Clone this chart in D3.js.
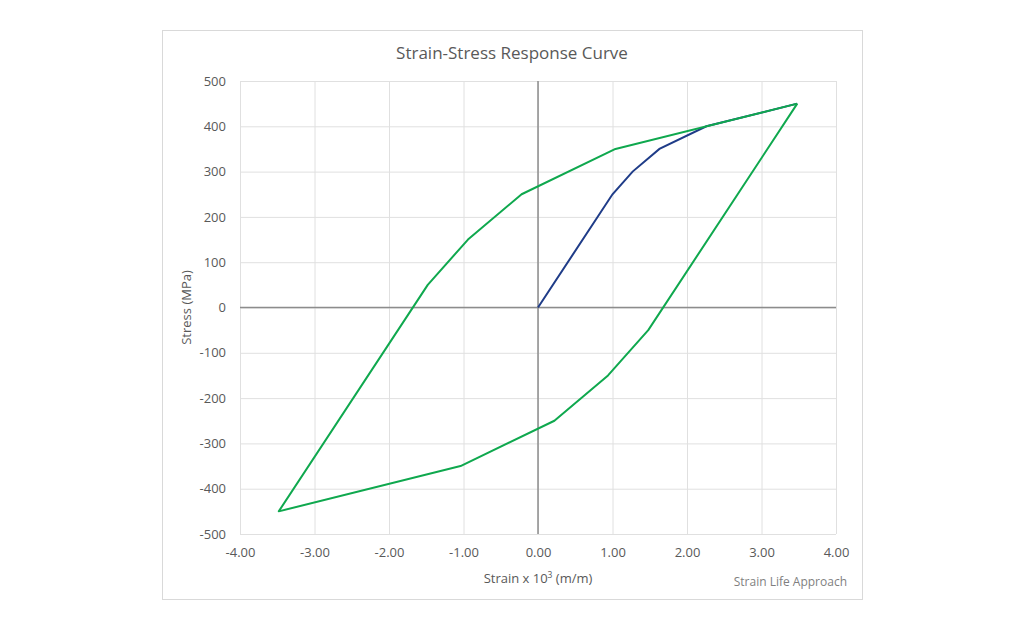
<!DOCTYPE html>
<html>
<head>
<meta charset="utf-8">
<script src="https://cdn.jsdelivr.net/npm/d3@7"></script>
<style>
  body { margin: 0; background: #fff; }
  text { font-family: "Open Sans", "Noto Sans", sans-serif; fill: #595959; }
</style>
</head>
<body>
<div class="chart-container"></div>
<script>
// data (strain x 10^3, stress MPa)
const monoStrain = [0, 1.0, 1.27, 1.63, 2.26, 3.48];
const monoStress = [0, 250, 300, 350, 400, 450];
const loopStrain = [3.48, 1.48, 0.94, 0.22, -1.04, -3.48, -1.48, -0.94, -0.22, 1.04, 3.48];
const loopStress = [450, -50, -150, -250, -350, -450, 50, 150, 250, 350, 450];
const xTicks = [-4, -3, -2, -1, 0, 1, 2, 3, 4];
const yTicks = [-500, -400, -300, -200, -100, 0, 100, 200, 300, 400, 500];

const svg_width = 1024;
const svg_height = 630;
const margin = { top: 81, right: 188, bottom: 96, left: 240 };
const chart_width = svg_width - margin.left - margin.right;
const chart_height = svg_height - margin.top - margin.bottom;

// plain hyphen for negatives, like the original
const fmtX = d => d3.format('.2f')(d).replace('\u2212', '-');
const fmtY = d => String(d);

const svg = d3.select('.chart-container').append('svg')
    .attr('width', svg_width).attr('height', svg_height);

// outer frame
svg.append('rect')
    .attr('x', 162.5).attr('y', 30.5).attr('width', 700).attr('height', 569)
    .attr('fill', '#fff').attr('stroke', '#d9d9d9');

const g = svg.append('g').attr('transform', `translate(${margin.left},${margin.top})`);

const xScale = d3.scaleLinear().domain([-4, 4]).range([0, chart_width]);
const yScale = d3.scaleLinear().domain([-500, 500]).range([chart_height, 0]);

// gridlines
g.append('g').attr('class', 'grid x')
    .call(d3.axisBottom(xScale).tickValues(xTicks).tickSize(chart_height).tickFormat(''))
    .call(a => a.select('.domain').remove())
    .selectAll('line').attr('stroke', '#e0e0e0');
g.append('g').attr('class', 'grid y')
    .call(d3.axisRight(yScale).tickValues(yTicks).tickSize(chart_width).tickFormat(''))
    .call(a => a.select('.domain').remove())
    .selectAll('line').attr('stroke', '#e0e0e0');

// zero lines
g.append('line').attr('x1', xScale(0)).attr('x2', xScale(0))
    .attr('y1', 0).attr('y2', chart_height)
    .attr('stroke', '#8c8c8c').attr('stroke-width', 1.5);
g.append('line').attr('x1', 0).attr('x2', chart_width)
    .attr('y1', yScale(0)).attr('y2', yScale(0))
    .attr('stroke', '#8c8c8c').attr('stroke-width', 1.5);

// tick labels
const xAxis = g.append('g').attr('transform', `translate(0,${chart_height})`)
    .call(d3.axisBottom(xScale).tickValues(xTicks).tickSize(0).tickPadding(14)
        .tickFormat(fmtX));
xAxis.select('.domain').remove();
xAxis.selectAll('text').style('font-size', '13px').style('fill', '#595959')
    .style('font-family', '"Open Sans", sans-serif');

const yAxis = g.append('g')
    .call(d3.axisLeft(yScale).tickValues(yTicks).tickSize(0).tickPadding(14)
        .tickFormat(fmtY));
yAxis.select('.domain').remove();
yAxis.selectAll('text').style('font-size', '13px').style('fill', '#595959')
    .style('font-family', '"Open Sans", sans-serif');

// curves
const line = d3.line().x(d => xScale(d[0])).y(d => yScale(d[1]));
const monoData = monoStrain.map((d, i) => [d, monoStress[i]]);
const loopData = loopStrain.map((d, i) => [d, loopStress[i]]);

g.append('path').datum(monoData).attr('d', line)
    .attr('fill', 'none').attr('stroke', '#1f3c88').attr('stroke-width', 2);
g.append('path').datum(loopData).attr('d', line)
    .attr('fill', 'none').attr('stroke', '#0fa84e').attr('stroke-width', 2)
    .attr('stroke-linejoin', 'round');

// titles
svg.append('text').attr('x', 512).attr('y', 59).attr('text-anchor', 'middle')
    .style('font-size', '17px').text('Strain-Stress Response Curve');

const xt = svg.append('text').attr('x', margin.left + xScale(0)).attr('y', 583)
    .attr('text-anchor', 'middle').style('font-size', '13px');
xt.append('tspan').text('Strain x 10');
xt.append('tspan').attr('dy', -5).style('font-size', '8.5px').text('3');
xt.append('tspan').attr('dy', 5).text(' (m/m)');

svg.append('text')
    .attr('transform', `translate(191,${margin.top + yScale(0)}) rotate(-90)`)
    .attr('text-anchor', 'middle').style('font-size', '13px').text('Stress (MPa)');

svg.append('text').attr('x', 847).attr('y', 586).attr('text-anchor', 'end')
    .style('font-size', '12px').style('fill', '#7f7f7f').text('Strain Life Approach');
</script>
</body>
</html>
